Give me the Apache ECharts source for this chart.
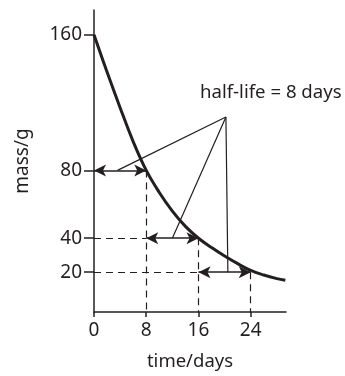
<!DOCTYPE html>
<html>
<head>
<meta charset="utf-8">
<script src="https://cdn.jsdelivr.net/npm/echarts@6/dist/echarts.min.js"></script>
<style>
  html, body { margin: 0; padding: 0; background: #fff; }
  #chart { width: 345px; height: 376px; }
</style>
</head>
<body>
<div id="chart"></div>
<script>
// decay curve
const timeDays = [0, 2, 4, 6, 8, 10, 12, 14, 16, 18, 20, 22, 24, 26, 28, 29.3];
const massG = [160, 138, 117, 97, 80, 67, 56, 47, 40, 34.5, 29.5, 25, 21, 18.3, 16.2, 15.2];

const xTicks = [0, 8, 16, 24];
const yTicks = [20, 40, 80, 160];

// double-headed arrows marking each half-life
const arrowSegs = [
  [[0, 80], [8, 80]],
  [[8, 40], [16, 40]],
  [[16, 20], [24, 20]]
];
// dashed guide lines
const dashSegs = [
  [[0, 40], [8, 40]],
  [[0, 20], [16, 20]],
  [[8, 80], [8, -3.5]],
  [[16, 40], [16, -3.5]],
  [[24, 20], [24, -3.5]]
];
// lines from the note down to the arrows
const pointerSegs = [
  [[20.2, 111.5], [3.6, 80]],
  [[20.2, 111.5], [12, 40]],
  [[20.2, 111.5], [20.5, 20]]
];
const noteText = 'half-life = 8 days';

const ink = '#231f20';
const font = 'Noto Sans';

function toMarkData(segs) {
  return segs.map(s => [{ coord: s[0] }, { coord: s[1] }]);
}

const chart = echarts.init(document.getElementById('chart'));

const option = {
  animation: false,
  textStyle: { fontFamily: font, color: ink },
  grid: { left: 94, right: 59, top: 10, bottom: 63 },
  xAxis: {
    type: 'value',
    min: 0,
    max: 29.4,
    interval: 8,
    name: 'time/days',
    nameLocation: 'middle',
    nameGap: 40,
    nameTextStyle: { fontSize: 18.5, color: ink, fontFamily: font },
    axisLine: { onZero: false, lineStyle: { color: ink, width: 1.5 } },
    axisTick: { customValues: xTicks, length: 5, lineStyle: { color: ink, width: 1.5 } },
    axisLabel: { customValues: xTicks, fontSize: 19, color: ink, margin: 9, fontFamily: font },
    splitLine: { show: false }
  },
  yAxis: {
    type: 'value',
    min: -3.5,
    max: 174.6,
    interval: 20,
    name: 'mass/g',
    nameLocation: 'middle',
    nameRotate: 90,
    nameGap: 62,
    nameTextStyle: { fontSize: 19, color: ink, fontFamily: font },
    axisLine: { show: true, onZero: false, lineStyle: { color: ink, width: 1.5 } },
    axisTick: { show: true, customValues: yTicks, length: 10, lineStyle: { color: ink, width: 1.5 } },
    axisLabel: { customValues: yTicks, fontSize: 19, color: ink, margin: 12, fontFamily: font },
    splitLine: { show: false }
  },
  graphic: [{
    type: 'text',
    left: 200,
    top: 83,
    style: { text: noteText, fontSize: 18.6, fill: ink, fontFamily: font }
  }],
  series: [
    {
      type: 'line',
      data: timeDays.map((t, i) => [t, massG[i]]),
      smooth: 0.4,
      symbol: 'none',
      lineStyle: { color: ink, width: 3 },
      z: 5
    },
    {
      type: 'line',
      data: [],
      markLine: {
        silent: true,
        symbol: ['arrow', 'arrow'],
        symbolSize: [9, 12],
        label: { show: false },
        lineStyle: { color: ink, width: 1.5, type: 'solid' },
        data: toMarkData(arrowSegs)
      }
    },
    {
      type: 'line',
      data: [],
      markLine: {
        silent: true,
        symbol: 'none',
        label: { show: false },
        lineStyle: { color: ink, width: 1.2, type: [7, 5] },
        data: toMarkData(dashSegs)
      }
    },
    {
      type: 'line',
      data: [],
      markLine: {
        silent: true,
        symbol: 'none',
        label: { show: false },
        lineStyle: { color: ink, width: 1.2, type: 'solid' },
        data: toMarkData(pointerSegs)
      }
    }
  ]
};

chart.setOption(option);
</script>
</body>
</html>
